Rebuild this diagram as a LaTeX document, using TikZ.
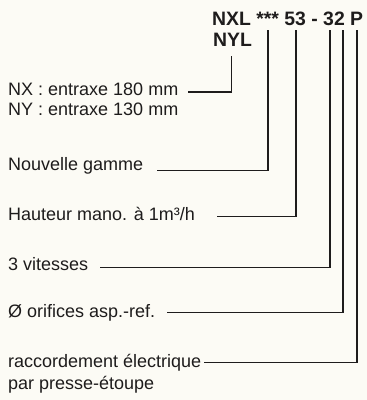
\documentclass[tikz,border=0pt]{standalone}
\usepackage{fontspec}
\setmainfont{Liberation Sans}
\definecolor{ink}{RGB}{30,28,28}
\definecolor{paper}{RGB}{252,251,245}
\begin{document}
\begin{tikzpicture}[x=1pt,y=-1pt,
  lbl/.style={anchor=base west, inner sep=0pt, font=\fontsize{18}{21}\selectfont, text=ink},
  ttl/.style={anchor=base west, inner sep=0pt, font=\fontsize{19.4}{23}\selectfont\bfseries, text=ink},
  conn/.style={line width=1.5pt, draw=ink}]
\fill[paper] (0,0) rectangle (367,400);
\useasboundingbox (0,0) rectangle (367,400);
% title
\node[ttl] (nxl) at (212,25) {NXL *** 53 - 32 P};
\node[ttl] (nyl) at (213,46.7) {NYL};
% labels
\node[lbl] (nx) at (8,95) {NX : entraxe 180 mm};
\node[lbl] (ny) at (8,115) {NY : entraxe 130 mm};
\node[lbl] (ng) at (8,170.5) {Nouvelle gamme};
\node[lbl] (hm) at (8,220) {Hauteur mano. à 1m³/h};
\node[lbl] (tv) at (8,270) {3 vitesses};
\node[lbl] (of) at (8,317) {Ø orifices asp.-ref.};
\node[lbl] (rc) at (8,367) {raccordement électrique};
\node[lbl] (rc2) at (8,389.5) {par presse-étoupe};
% connector ends
\coordinate (s1) at (188,92);
\coordinate (t1) at (231.5,56);
\coordinate (s2) at (157,170.7);
\coordinate (t2) at (268,30);
\coordinate (s3) at (217,216.7);
\coordinate (t3) at (296,30);
\coordinate (s4) at (100,267.3);
\coordinate (t4) at (330,30);
\coordinate (s5) at (167,312.3);
\coordinate (t5) at (343,30);
\coordinate (s6) at (204,362.3);
\coordinate (t6) at (357,30);
\draw[conn] (s1) -| (t1);
\draw[conn] (s2) -| (t2);
\draw[conn] (s3) -| (t3);
\draw[conn] (s4) -| (t4);
\draw[conn] (s5) -| (t5);
\draw[conn] (s6) -| (t6);
\end{tikzpicture}
\end{document}
